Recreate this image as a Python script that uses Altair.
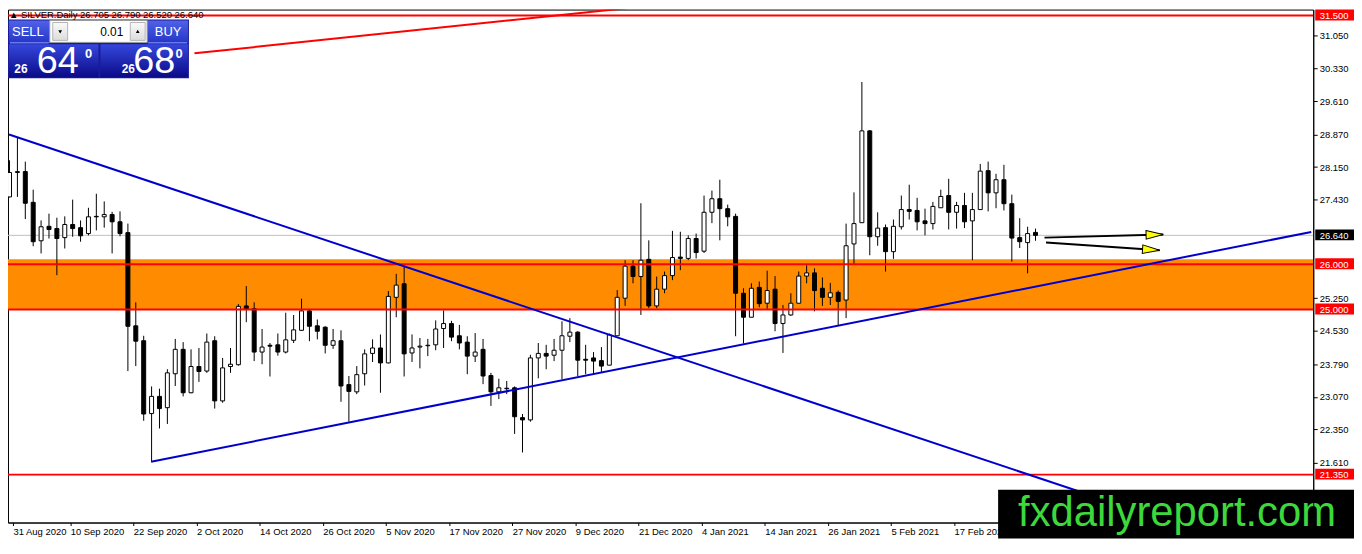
import altair as alt
import pandas as pd

# ---------------- data ----------------
opens = [
    27.49, 28.03, 28.05, 27.37, 26.52, 26.84, 26.79, 26.59, 26.88, 26.81,
    26.68, 27.06, 27.05, 27.10, 26.94, 26.70, 24.64, 24.31, 22.70, 23.08,
    22.83, 23.58, 24.12, 23.16, 23.74, 23.64, 24.31, 22.98, 23.74, 23.78,
    25.08, 25.02, 24.06, 24.21, 24.22, 24.06, 24.32, 24.54, 24.97, 24.64,
    24.61, 24.21, 24.31, 23.34, 23.18, 23.58, 24.03, 24.15, 23.82, 25.27,
    25.57, 24.04, 24.17, 24.20, 24.22, 24.58, 24.69, 24.42, 24.28, 23.97,
    24.12, 23.54, 23.18, 23.26, 23.27, 22.61, 22.56, 23.93, 24.03, 23.99,
    24.10, 24.41, 24.50, 23.90, 23.93, 23.87, 23.77, 24.42, 25.25, 25.96,
    25.73, 26.11, 25.08, 25.45, 25.75, 26.16, 26.13, 26.57, 26.29, 27.15,
    27.45, 27.23, 27.06, 25.36, 24.83, 25.49, 25.14, 25.45, 24.69, 24.88,
    25.14, 25.74, 25.81, 25.47, 25.27, 25.38, 25.21, 26.45, 26.92, 28.95,
    26.61, 26.81, 26.28, 26.83, 27.21, 27.19, 26.96, 26.90, 27.25, 27.52,
    27.15, 27.30, 26.96, 27.21, 28.07, 27.58, 27.87, 27.34, 26.59, 26.48,
    26.705]
highs = [
    28.30, 28.80, 28.27, 27.65, 26.97, 27.12, 27.03, 27.06, 27.43, 26.97,
    27.25, 27.56, 27.39, 27.16, 27.17, 26.90, 25.16, 24.42, 23.30, 23.25,
    23.68, 24.35, 24.28, 24.12, 24.15, 24.47, 24.41, 23.93, 24.15, 25.12,
    25.52, 25.16, 24.57, 24.26, 24.47, 24.93, 24.88, 25.24, 25.01, 24.78,
    24.63, 24.57, 24.54, 23.53, 23.75, 24.12, 24.34, 24.45, 25.41, 25.79,
    25.95, 24.45, 24.37, 24.35, 24.76, 24.98, 24.75, 24.66, 24.41, 24.48,
    24.35, 23.60, 23.47, 23.42, 23.30, 22.69, 24.00, 24.26, 24.22, 24.35,
    24.74, 24.81, 24.52, 24.22, 24.06, 24.17, 24.47, 25.43, 26.09, 26.09,
    27.35, 26.53, 25.73, 25.84, 26.74, 26.72, 26.64, 26.68, 27.52, 27.63,
    27.87, 27.32, 27.12, 25.47, 25.58, 25.62, 25.86, 25.74, 25.10, 25.36,
    25.84, 25.98, 25.91, 25.71, 25.59, 25.42, 26.90, 27.59, 30.03, 28.97,
    27.15, 26.88, 26.99, 27.52, 27.76, 27.47, 27.23, 27.38, 27.65, 27.89,
    27.38, 27.58, 27.58, 28.22, 28.27, 28.00, 28.20, 27.54, 27.02, 26.83,
    26.79]
lows = [
    27.48, 27.49, 27.00, 26.40, 26.24, 26.57, 25.76, 26.35, 26.61, 26.50,
    26.64, 26.75, 26.81, 26.24, 26.62, 23.64, 23.75, 22.54, 21.65, 22.37,
    22.47, 23.31, 23.08, 23.15, 23.40, 23.60, 22.81, 22.94, 23.60, 23.76,
    24.72, 23.86, 23.79, 23.52, 23.98, 24.03, 24.26, 24.53, 24.30, 24.34,
    24.03, 24.13, 22.96, 22.52, 23.13, 23.32, 23.84, 23.16, 23.81, 24.83,
    23.52, 23.84, 23.70, 23.97, 24.10, 24.15, 24.30, 24.12, 23.57, 23.84,
    23.35, 22.87, 23.02, 23.13, 22.25, 21.84, 22.52, 23.48, 23.68, 23.86,
    23.46, 24.28, 23.53, 23.57, 23.57, 23.60, 23.77, 24.42, 25.08, 25.58,
    24.88, 25.03, 25.03, 25.36, 25.65, 25.87, 26.09, 26.13, 26.25, 26.91,
    26.53, 26.84, 24.41, 24.25, 24.83, 25.05, 25.01, 24.52, 24.04, 24.86,
    25.14, 25.58, 24.96, 25.08, 25.10, 24.64, 24.81, 26.00, 26.92, 26.20,
    26.41, 25.84, 26.12, 26.77, 26.99, 26.75, 26.64, 26.77, 27.25, 26.77,
    26.79, 26.80, 26.09, 27.21, 27.17, 27.24, 27.19, 26.06, 26.36, 25.80,
    26.52]
closes = [
    28.03, 28.05, 27.35, 26.50, 26.83, 26.77, 26.57, 26.88, 26.79, 26.63,
    27.05, 27.05, 27.10, 26.94, 26.68, 24.63, 24.30, 22.69, 23.08, 22.81,
    23.60, 24.12, 23.16, 23.74, 23.63, 24.28, 22.98, 23.71, 23.79, 25.07,
    25.02, 24.06, 24.17, 24.19, 24.06, 24.33, 24.55, 24.97, 24.63, 24.52,
    24.21, 24.31, 23.31, 23.19, 23.56, 24.02, 24.15, 23.82, 25.29, 25.54,
    24.02, 24.15, 24.19, 24.21, 24.57, 24.69, 24.39, 24.26, 23.97, 24.06,
    23.53, 23.18, 23.27, 23.25, 22.63, 22.56, 23.93, 24.03, 23.97, 24.10,
    24.42, 24.50, 23.88, 23.88, 23.86, 23.75, 24.44, 25.27, 25.96, 25.73,
    26.09, 25.08, 25.45, 25.75, 26.15, 26.13, 26.57, 26.26, 27.15, 27.45,
    27.23, 27.05, 25.36, 24.83, 25.47, 25.13, 25.42, 24.69, 24.88, 25.14,
    25.74, 25.81, 25.42, 25.27, 25.37, 25.18, 26.41, 26.90, 28.95, 26.61,
    26.80, 26.28, 26.84, 27.21, 27.17, 26.94, 26.90, 27.28, 27.50, 27.15,
    27.30, 26.94, 27.21, 28.06, 27.58, 27.87, 27.34, 26.58, 26.50, 26.68,
    26.64]

date_labels = ["31 Aug 2020", "10 Sep 2020", "22 Sep 2020", "2 Oct 2020",
               "14 Oct 2020", "26 Oct 2020", "5 Nov 2020", "17 Nov 2020",
               "27 Nov 2020", "9 Dec 2020", "21 Dec 2020", "4 Jan 2021",
               "14 Jan 2021", "26 Jan 2021", "5 Feb 2021", "17 Feb 2021"]
price_ticks = [31.05, 30.33, 29.61, 28.87, 28.15, 27.43, 25.25, 24.53,
               23.79, 23.07, 22.35, 21.61]
level_prices = [31.5, 26.0, 25.0, 21.35]
last_price = 26.64
zone_low, zone_high = 25.0, 26.11

blue_from_bar = [0, 18]
blue_from_price = [28.87, 21.636]
blue_to_bar = [143, 165]
blue_to_price = [20.547, 26.715]
red_from_bar = [23.5]
red_from_price = [30.665]
red_to_bar = [82.625]
red_to_price = [31.742]

arrow_from_bar = [131.2, 131.4]
arrow_from_price = [26.59, 26.48]
arrow_to_bar = [146.25, 145.8]
arrow_to_price = [26.66, 26.31]

title_text = "\u25b2 SILVER.Daily  26.705 26.790 26.520 26.640"
watermark = "fxdailyreport.com"

# ---------------- tables ----------------
candles = pd.DataFrame({"bar": list(range(len(opens))), "open": opens,
                        "high": highs, "low": lows, "close": closes})
blue_lines = pd.DataFrame({"x1": blue_from_bar, "y1": blue_from_price,
                           "x2": blue_to_bar, "y2": blue_to_price})
red_lines = pd.DataFrame({"x1": red_from_bar, "y1": red_from_price,
                          "x2": red_to_bar, "y2": red_to_price})
arrows = pd.DataFrame({"x1": arrow_from_bar, "y1": arrow_from_price,
                       "x2": arrow_to_bar, "y2": arrow_to_price})
one = pd.DataFrame({"k": [0]})

W, H = 1313, 516
FONT = "Liberation Sans"
xs = alt.Scale(domain=[0.5, 164.625], nice=False, zero=False)
ys = alt.Scale(domain=[20.291, 31.632], nice=False, zero=False)

special = level_prices + [last_price]
special_js = "[" + ",".join(str(v) for v in special) + "]"
labels_js = "[" + ",".join("'" + d + "'" for d in date_labels) + "]"
x_tick_values = [0.5] + [8 * k - 0.25 for k in range(1, len(date_labels))]

x_axis = alt.Axis(orient="bottom", values=x_tick_values,
                  labelExpr=labels_js + "[round(datum.value / 8)]",
                  title=None, grid=False, tickSize=3, tickColor="black",
                  domainColor="black", labelAlign="left", labelBaseline="top",
                  labelPadding=1, labelFont=FONT, labelFontSize=9.5,
                  labelColor="black", labelOverlap=False, labelBound=False,
                  labelFlush=False, zindex=0)
y_axis = alt.Axis(orient="right", values=price_ticks + special, format=".3f",
                  title=None, grid=False, tickSize=4,
                  tickColor=alt.expr("indexof(" + special_js + ", datum.value) >= 0 ? 'transparent' : 'black'"),
                  domainColor="black", labelPadding=2, labelFont=FONT,
                  labelFontSize=9.5, labelBaseline="middle",
                  labelColor=alt.expr("indexof(" + special_js + ", datum.value) >= 0 ? 'white' : 'black'"),
                  labelOverlap=False, labelBound=False, labelFlush=False, zindex=1)


def X(f):
    return alt.X(f, scale=xs, axis=x_axis)


def Y(f):
    return alt.Y(f, scale=ys, axis=y_axis)


zone = alt.Chart(pd.DataFrame({"lo": [zone_low], "hi": [zone_high]})).mark_rect(
    color="#ff8c00").encode(
    y=Y("hi:Q"), y2="lo:Q", x=alt.value(0), x2=alt.value(W))

last_line = alt.Chart(pd.DataFrame({"p": [last_price]})).mark_rule(
    color="#c0c0c0", strokeWidth=1).encode(y=Y("p:Q"))

wicks = alt.Chart(candles).mark_rule(color="black", strokeWidth=1, xOffset=0.5).encode(
    x=X("bar:Q"), y=Y("low:Q"), y2="high:Q")

bodies = alt.Chart(candles).mark_bar(size=4, stroke="black", strokeWidth=1,
                                     xOffset=0.5, opacity=1).encode(
    x=X("bar:Q"), y=Y("open:Q"), y2="close:Q",
    fill=alt.when(alt.datum.close >= alt.datum.open).then(alt.value("white")).otherwise(alt.value("black")))

levels = alt.Chart(pd.DataFrame({"p": level_prices})).mark_rule(
    color="#ff0000", strokeWidth=2).encode(y=Y("p:Q"))

blue_trend = alt.Chart(blue_lines).mark_rule(strokeWidth=2, clip=True, color="#0000cd").encode(
    x=X("x1:Q"), x2="x2:Q", y=Y("y1:Q"), y2="y2:Q")
red_trend = alt.Chart(red_lines).mark_rule(strokeWidth=2, clip=True, color="#ff0000").encode(
    x=X("x1:Q"), x2="x2:Q", y=Y("y1:Q"), y2="y2:Q")

arrow_lines = alt.Chart(arrows).mark_rule(color="black", strokeWidth=2).encode(
    x=X("x1:Q"), x2="x2:Q", y=Y("y1:Q"), y2="y2:Q")

HEAD = "M -2 -0.5 L 0 0 L -2 0.5 Z"
heads = []
for idx, ang in zip(range(len(arrows)), [358.6, 3.8]):
    heads.append(alt.Chart(arrows.iloc[[idx]]).mark_point(
        shape=HEAD, size=299, filled=True, color="#ffff00", stroke="black",
        strokeWidth=1, opacity=1, angle=ang).encode(x=X("x2:Q"), y=Y("y2:Q")))

level_boxes = alt.Chart(pd.DataFrame({"p": level_prices})).mark_rect(
    yOffset=-6, y2Offset=5, color="#ff0000").encode(
    y=Y("p:Q"), y2="p:Q", x=alt.value(W + 2), x2=alt.value(W + 41))
last_box = alt.Chart(pd.DataFrame({"p": [last_price]})).mark_rect(
    yOffset=-6, y2Offset=5, color="#000000").encode(
    y=Y("p:Q"), y2="p:Q", x=alt.value(W + 2), x2=alt.value(W + 41))


# ---------------- trading panel & overlays ----------------
def box(x, x2, y, y2, **mk):
    return alt.Chart(one).mark_rect(**mk).encode(
        x=alt.value(x), x2=alt.value(x2), y=alt.value(y), y2=alt.value(y2))


def text(t, x, y, **mk):
    return alt.Chart(one).mark_text(text=t, **mk).encode(x=alt.value(x), y=alt.value(y))


def grad(c0, c1):
    return alt.LinearGradient(gradient="linear", x1=0, x2=0, y1=0, y2=1,
                              stops=[alt.GradientStop(color=c0, offset=0),
                                     alt.GradientStop(color=c1, offset=1)])


hdr = grad("#5062e6", "#2435c6")
big = grad("#3547dc", "#0b0b88")
btn = grad("#fafafa", "#dcdcdc")

panel = [
    box(0, 182, 10, 69, fill="#1a1a9a"),
    box(1, 42, 11, 34, fill=hdr),
    box(140, 181, 11, 34, fill=hdr),
    box(42, 140, 11, 33, fill="white", stroke="#9a9a9a", strokeWidth=1),
    box(45, 60, 13, 31, fill=btn, stroke="#b4b4b4", strokeWidth=1),
    box(123, 138, 13, 31, fill=btn, stroke="#b4b4b4", strokeWidth=1),
    box(1, 91, 35, 68, fill=big),
    box(93, 181, 35, 68, fill=big),
    alt.Chart(one).mark_rule(color="#8fa0ff", strokeWidth=1).encode(
        x=alt.value(2), x2=alt.value(41), y=alt.value(33.5)),
    alt.Chart(one).mark_rule(color="#8fa0ff", strokeWidth=1).encode(
        x=alt.value(141), x2=alt.value(180), y=alt.value(33.5)),
    alt.Chart(one).mark_point(shape="triangle-down", size=14, filled=True,
                              color="black", opacity=1).encode(
        x=alt.value(52.5), y=alt.value(22.5)),
    alt.Chart(one).mark_point(shape="triangle-up", size=14, filled=True,
                              color="black", opacity=1).encode(
        x=alt.value(130.5), y=alt.value(22)),
    text("SELL", 20, 23, font=FONT, fontSize=13, color="white", align="center", baseline="middle"),
    text("BUY", 161, 23, font=FONT, fontSize=13, color="white", align="center", baseline="middle"),
    text("0.01", 116, 23, font=FONT, fontSize=12, color="black", align="right", baseline="middle"),
    text("26", 13, 63.5, font=FONT, fontSize=12, fontWeight="bold", color="white",
         align="center", baseline="alphabetic"),
    text("64", 50, 63.7, font=FONT, fontSize=38, color="white", align="center", baseline="alphabetic"),
    text("0", 81, 48.7, font=FONT, fontSize=13, fontWeight="bold", color="white",
         align="center", baseline="alphabetic"),
    text("26", 121, 63.5, font=FONT, fontSize=12, fontWeight="bold", color="white",
         align="center", baseline="alphabetic"),
    text("68", 147, 63.7, font=FONT, fontSize=38, color="white", align="center", baseline="alphabetic"),
    text("0", 172, 48.7, font=FONT, fontSize=13, fontWeight="bold", color="white",
         align="center", baseline="alphabetic"),
]

title = text(title_text, 1, 0.5, font=FONT + ", DejaVu Sans", fontSize=9.5, color="black",
             align="left", baseline="top")

wm_box = box(996, W + 41, 483, 532, fill="black")
wm_text = text(watermark, 1176, 519, font=FONT, fontSize=42, color="#3cd83c",
               align="center", baseline="alphabetic")

chart = alt.layer(
    zone, last_line, wicks, bodies, levels, blue_trend, red_trend, arrow_lines, *heads,
    level_boxes, last_box, *panel, title, wm_box, wm_text
).properties(
    width=W, height=H,
    padding={"left": 0, "top": 0, "right": 41, "bottom": 16},
    autosize=alt.AutoSizeParams(type="none"),
    background="white",
).configure_view(stroke="black", strokeWidth=1)

chart.save("out.html", embed_options={"renderer": "svg", "actions": False})
